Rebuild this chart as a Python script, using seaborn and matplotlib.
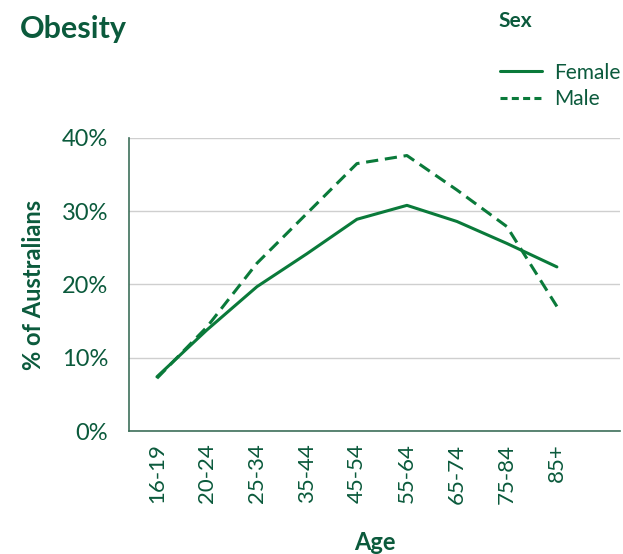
import matplotlib
matplotlib.use("Agg")
import matplotlib.pyplot as plt
import seaborn as sns
import pandas as pd
from matplotlib.lines import Line2D

ages = ["16-19", "20-24", "25-34", "35-44", "45-54", "55-64", "65-74", "75-84", "85+"]
female = [7.4, 13.8, 19.7, 24.2, 28.9, 30.8, 28.6, 25.6, 22.4]
male = [7.2, 14.2, 22.9, 29.7, 36.5, 37.6, 32.9, 27.9, 17.0]
y_ticks = [0, 10, 20, 30, 40]
y_tick_labels = ["0%", "10%", "20%", "30%", "40%"]

text_green = "#0b5a3c"
line_green = "#0a7a3a"

df = pd.DataFrame({
    "Age": ages * 2,
    "x": list(range(len(ages))) * 2,
    "value": female + male,
    "Sex": ["Female"] * len(ages) + ["Male"] * len(ages),
})

sns.set_theme(style="white")
plt.rcParams["font.family"] = ["Lato", "DejaVu Sans"]

fig = plt.figure(figsize=(6.23, 5.54), dpi=100)
ax = fig.add_axes([0.207, 0.222, 0.788, 0.529])

sns.lineplot(data=df, x="x", y="value", hue="Sex", style="Sex",
             palette={"Female": line_green, "Male": line_green},
             dashes={"Female": "", "Male": (4, 2.2)},
             linewidth=2.2, legend=False, ax=ax)

ax.set_xlim(-0.56, 9.26)
ax.set_ylim(0, 40)
ax.set_yticks(y_ticks)
ax.set_yticklabels(y_tick_labels, fontsize=17, color=text_green)
ax.set_xticks(range(len(ages)))
ax.set_xticklabels(ages, rotation=90, fontsize=16, color=text_green)
ax.tick_params(axis="y", length=0, pad=15)
ax.tick_params(axis="x", length=0, pad=9)
ax.grid(axis="y", color="#cfcfcf", linewidth=1)
ax.set_axisbelow(True)
for s in ["top", "right"]:
    ax.spines[s].set_visible(False)
for s in ["left", "bottom"]:
    ax.spines[s].set_color("#3d6f5a")
    ax.spines[s].set_linewidth(1.2)

ax.set_xlabel("Age", fontsize=17, fontweight="bold", color=text_green, labelpad=20)
ax.set_ylabel("% of Australians", fontsize=17, fontweight="bold", color=text_green, labelpad=12)

fig.text(0.032, 0.947, "Obesity", fontsize=22, fontweight="bold", color=text_green,
         va="center", ha="left")
fig.text(0.80, 0.962, "Sex", fontsize=15, fontweight="bold", color=text_green,
         va="center", ha="left")

handles = [Line2D([], [], color=line_green, lw=2.2, ls="-"),
           Line2D([], [], color=line_green, lw=2.2, ls=(0, (2.3, 1.4)))]
leg = fig.legend(handles, ["Female", "Male"], loc="upper left",
                 bbox_to_anchor=(0.803, 0.887), frameon=False, fontsize=15,
                 handlelength=2.0, handletextpad=0.6, labelspacing=0.3,
                 borderaxespad=0, borderpad=0)
for t in leg.get_texts():
    t.set_color(text_green)

fig.savefig("out.png", dpi=100)
